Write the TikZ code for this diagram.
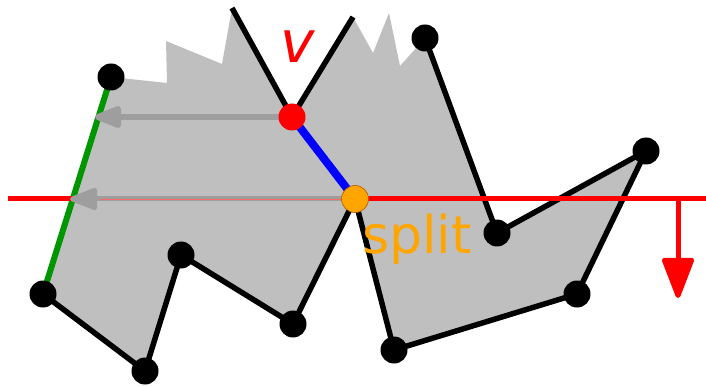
\documentclass[tikz,border=0pt]{standalone}
\usepackage{fontspec}
\setsansfont{DejaVu Sans}
\usetikzlibrary{arrows.meta}
\definecolor{polygray}{RGB}{191,191,191}
\definecolor{arrowgray}{RGB}{158,158,158}
\definecolor{splitorange}{RGB}{255,165,0}
\definecolor{edgegreen}{RGB}{0,150,0}
\begin{document}
\begin{tikzpicture}[x=1pt,y=-1pt,
  dot/.style={circle,fill=black,minimum size=27pt,inner sep=0pt},
  vdot/.style={circle,fill=red,minimum size=27pt,inner sep=0pt},
  sdot/.style={circle,fill=splitorange,draw=orange!70!black,line width=0.6pt,minimum size=27pt,inner sep=0pt},
  edge/.style={line width=5.5pt,black},
  sweep/.style={line width=5pt,red},
  grayarrow/.style={line width=6pt,arrowgray,-{Triangle[length=32pt,width=23pt,round]}},
  label/.style={inner sep=0pt}
]
\useasboundingbox (0,0) rectangle (706,387);
% vertices
\coordinate (A) at (111,77);
\coordinate (B) at (43,294);
\coordinate (C) at (145,371);
\coordinate (D) at (181,255);
\coordinate (E) at (293,324);
\coordinate (S) at (355,199);
\coordinate (F) at (394,350);
\coordinate (G) at (577,294);
\coordinate (H) at (646,151);
\coordinate (I) at (497,233);
\coordinate (J) at (425,38);
\coordinate (V) at (292,117);
\coordinate (VL) at (232,8);
\coordinate (VR) at (353,17);
% jagged outline points
\coordinate (p1) at (167,83);
\coordinate (p2) at (166,41);
\coordinate (p3) at (222,64);
\coordinate (p4) at (373,53);
\coordinate (p5) at (389,13);
\coordinate (p6) at (400,66);
% sweep line and arrows
\coordinate (LL) at (8,199);
\coordinate (LR) at (706,199);
\coordinate (DA) at (678,199);
\coordinate (DB) at (678,298);
\coordinate (T1) at (95,117);
\coordinate (T2) at (70,199);
\coordinate (T2b) at (100,199);

\fill[polygray] (A) -- (p1) -- (p2) -- (p3) -- (VL) -- (V) -- (VR) -- (p4) -- (p5) -- (p6) -- (J)
  -- (I) -- (H) -- (G) -- (F) -- (S) -- (E) -- (D) -- (C) -- (B) -- cycle;

% black edges
\draw[edge] (B) -- (C) -- (D) -- (E) -- (S) -- (F) -- (G) -- (H) -- (I) -- (J);
\draw[edge] (VL) -- (V) -- (VR);
\draw[line width=6pt,edgegreen] (A) -- (B);
\draw[line width=8pt,blue] (V) -- (S);

% sweep line
\draw[sweep] (LL) -- (LR);
\draw[sweep,-{Triangle[length=45pt,width=33pt,round]}] (DA) -- (DB);

% gray arrows
\draw[grayarrow] (V) -- (T1);
\draw[grayarrow,line width=5pt] (S) -- (T2);
\draw[red!60,line width=0.5pt] (S) -- (T2b);

% dots
\foreach \p in {A,B,C,D,E,F,G,H,I,J} \node[dot] (n\p) at (\p) {};
\node[vdot] (nV) at (V) {};
\node[sdot] (nS) at (S) {};

% labels
\node[label,red,font=\sffamily\itshape\fontsize{58}{58}\selectfont] (lv) at (298,47) {v};
\node[label,splitorange,anchor=base west,font=\sffamily\fontsize{52}{52}\selectfont] (ls) at (362,253) {split};
\end{tikzpicture}
\end{document}
